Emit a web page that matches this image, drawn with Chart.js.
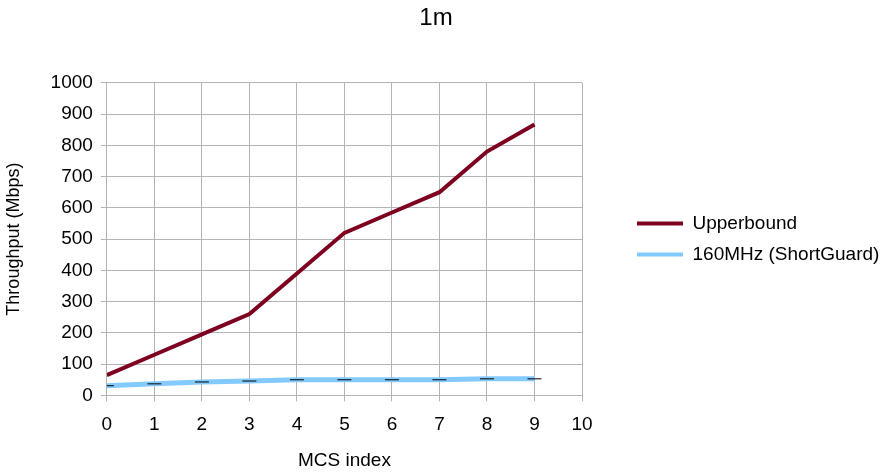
<!DOCTYPE html>
<html>
<head>
<meta charset="utf-8">
<script src="https://cdn.jsdelivr.net/npm/chart.js@4.4.0/dist/chart.umd.min.js"></script>
<style>
html,body{margin:0;padding:0;background:#fff;}
#wrap{width:890px;height:473px;position:relative;}
</style>
</head>
<body>
<div id="wrap"><canvas id="c" width="890" height="473"></canvas></div>
<script>
const mcsIndex = [0,1,2,3,4,5,6,7,8,9];
const upperbound = [65,130,195,260,390,520,585,650,780,866.7];
const shortGuard160 = [31,37,43,46,50,50,50,50,53,53];
const xTicks = [0,1,2,3,4,5,6,7,8,9,10];
const yTicks = [0,100,200,300,400,500,600,700,800,900,1000];

const FONT = "'Liberation Sans', Arial, sans-serif";
const LEGEND_W = 287;

const legendShift = {
  id: 'legendShift',
  afterInit(chart) {
    const lg = chart.legend;
    if (!lg) return;
    const orig = lg.fit.bind(lg);
    lg.fit = function () { orig(); this.width = LEGEND_W; };
  },
  afterLayout(chart) {
    const lg = chart.legend;
    if (!lg) return;
    lg.left = chart.chartArea.right + 43;
    lg.right = chart.width;
    lg.width = lg.right - lg.left;
    lg.top += 3;
    lg.bottom += 3;
  }
};

new Chart(document.getElementById('c'), {
  type: 'line',
  plugins: [legendShift],
  data: {
    datasets: [
      {
        label: 'Upperbound',
        data: mcsIndex.map((x,i)=>({x:x,y:upperbound[i]})),
        borderColor: '#7E0021',
        backgroundColor: '#7E0021',
        borderWidth: 4,
        pointRadius: 0,
        tension: 0
      },
      {
        label: '160MHz (ShortGuard)',
        data: mcsIndex.map((x,i)=>({x:x,y:shortGuard160[i]})),
        borderColor: '#83CAFF',
        backgroundColor: '#83CAFF',
        borderWidth: 5,
        pointStyle: 'line',
        pointRadius: 7,
        pointBorderColor: '#000',
        pointBorderWidth: 1,
        tension: 0
      }
    ]
  },
  options: {
    responsive: false,
    animation: false,
    layout: { padding: { left: 3, right: 21, top: 0, bottom: 1 } },
    plugins: {
      title: {
        display: true, text: '1m', color: '#000',
        font: { family: FONT, size: 24, weight: 'normal' },
        padding: { top: 4, bottom: 50 }
      },
      legend: {
        position: 'right',
        labels: {
          color: '#000',
          font: { family: FONT, size: 19 },
          boxWidth: 46, boxHeight: 4,
          padding: 12,
          generateLabels(chart) {
            return chart.data.datasets.map((d,i)=>({
              text: d.label, fillStyle: d.borderColor, strokeStyle: d.borderColor,
              lineWidth: 0, datasetIndex: i, hidden: false
            }));
          }
        }
      },
      tooltip: { enabled: false }
    },
    scales: {
      x: {
        type: 'linear', min: 0, max: 10,
        afterBuildTicks(s){ s.ticks = xTicks.map(v=>({value:v})); },
        grid: { color: '#b3b3b3', tickLength: 6, drawTicks: true },
        border: { color: '#b3b3b3' },
        ticks: { color: '#000', font: { family: FONT, size: 19 }, padding: 12, maxRotation: 0, callback: v=>String(v) },
        title: { display: true, text: 'MCS index', color: '#000', font: { family: FONT, size: 19 }, padding: { top: 1, bottom: 0 } }
      },
      y: {
        type: 'linear', min: 0, max: 1000,
        afterBuildTicks(s){ s.ticks = yTicks.map(v=>({value:v})); },
        grid: { color: '#b3b3b3', tickLength: 6 },
        border: { color: '#b3b3b3' },
        ticks: { color: '#000', font: { family: FONT, size: 19 }, padding: 8, callback: v=>String(v) },
        title: { display: true, text: 'Throughput (Mbps)', color: '#000', font: { family: FONT, size: 18 }, padding: { top: 0, bottom: 18 } }
      }
    }
  }
});
</script>
</body>
</html>
